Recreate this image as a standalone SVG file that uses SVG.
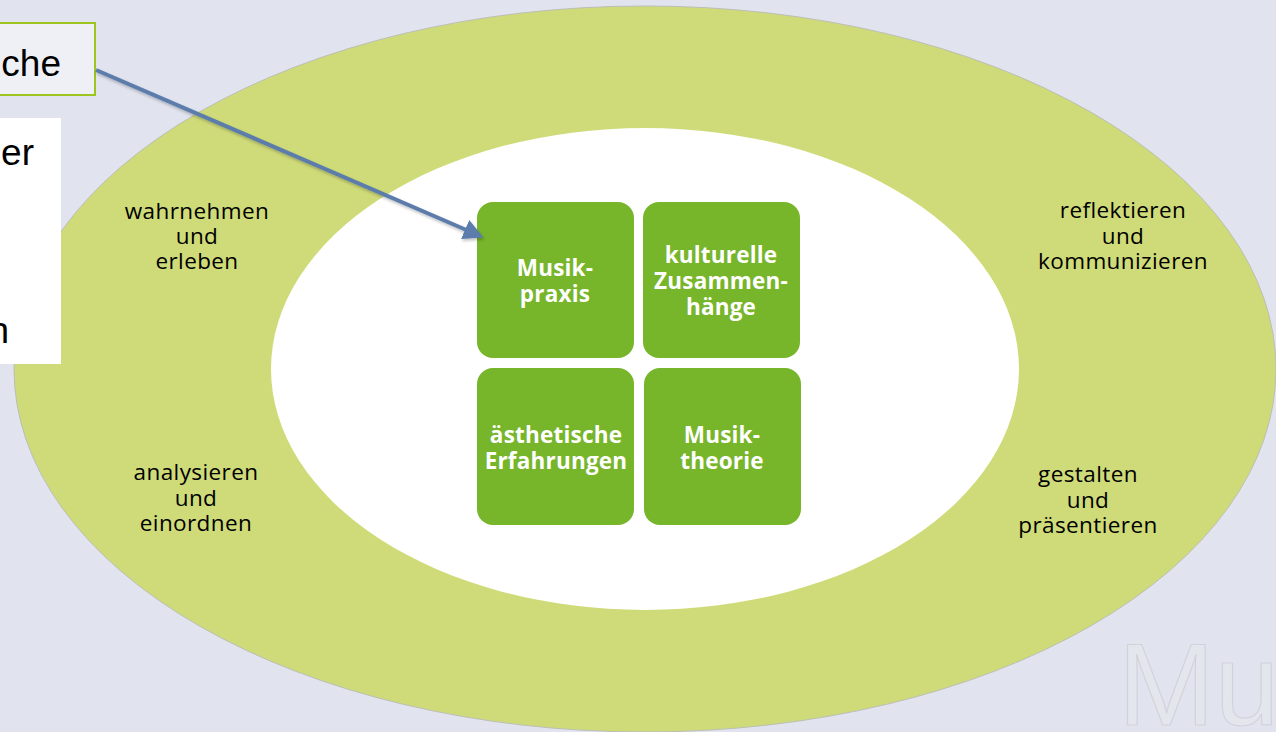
<svg xmlns="http://www.w3.org/2000/svg" width="1276" height="732" viewBox="0 0 1276 732">
<style>
.lbl{font-family:"Open Sans","DejaVu Sans",sans-serif;font-size:22.5px;fill:#000;text-anchor:middle;letter-spacing:0.4px}
.box{fill:#77b52a}
.bt{font-family:"Open Sans","DejaVu Sans",sans-serif;font-size:22.5px;font-weight:bold;fill:#fff;text-anchor:middle;letter-spacing:0.2px}
.big{font-family:"Liberation Sans",Arial,sans-serif;font-size:37px;fill:#000}
</style>
<defs>
<marker id="ah" markerWidth="6" markerHeight="6" refX="3.5" refY="3" orient="auto" markerUnits="strokeWidth">
<path d="M0,0.4 L5,3 L0,5.6 Z" fill="#5b7dab"/>
</marker>
<filter id="sh" x="-10%" y="-10%" width="120%" height="130%">
<feDropShadow dx="1" dy="2" stdDeviation="1.5" flood-color="#000" flood-opacity="0.25"/>
</filter>
</defs>
<rect width="1276" height="732" fill="#e1e3ef"/>
<g id="outer">
<ellipse cx="645" cy="369" rx="631" ry="363" fill="#cfdb78" stroke="#bcbfb4" stroke-width="1"/>
<ellipse cx="645" cy="369" rx="374" ry="241" fill="#ffffff"/>
</g>
<g id="label-wahrnehmen">
<text class="lbl" x="197" y="219">wahrnehmen</text>
<text class="lbl" x="197" y="244">und</text>
<text class="lbl" x="197" y="269">erleben</text>
</g>
<g id="label-analysieren">
<text class="lbl" x="196" y="480">analysieren</text>
<text class="lbl" x="196" y="506">und</text>
<text class="lbl" x="196" y="531">einordnen</text>
</g>
<g id="label-reflektieren">
<text class="lbl" x="1123" y="218">reflektieren</text>
<text class="lbl" x="1123" y="244">und</text>
<text class="lbl" x="1123" y="269">kommunizieren</text>
</g>
<g id="label-gestalten">
<text class="lbl" x="1088" y="482">gestalten</text>
<text class="lbl" x="1088" y="508">und</text>
<text class="lbl" x="1088" y="533">präsentieren</text>
</g>
<g id="node-musikpraxis">
<rect class="box" x="477" y="202" width="157" height="156" rx="16"/>
<text class="bt" x="555" y="276">Musik-</text>
<text class="bt" x="555" y="302">praxis</text>
</g>
<g id="node-kulturelle">
<rect class="box" x="643" y="202" width="157" height="156" rx="16"/>
<text class="bt" x="721" y="263">kulturelle</text>
<text class="bt" x="721" y="289">Zusammen-</text>
<text class="bt" x="721" y="315">hänge</text>
</g>
<g id="node-aesthetische">
<rect class="box" x="477" y="368" width="157" height="157" rx="16"/>
<text class="bt" x="556" y="443">ästhetische</text>
<text class="bt" x="556" y="469">Erfahrungen</text>
</g>
<g id="node-musiktheorie">
<rect class="box" x="644" y="368" width="157" height="157" rx="16"/>
<text class="bt" x="722" y="443">Musik-</text>
<text class="bt" x="722" y="469">theorie</text>
</g>
<g id="watermark">
<text x="1118" y="725" font-family="Liberation Sans, Arial, sans-serif" font-size="116" font-weight="normal" fill="#e4e6ee" stroke="#d2d3da" stroke-width="1.2">Mu</text>
</g>
<g id="node-che">
<rect x="-10" y="23" width="105" height="72" fill="#eff0f6" stroke="#9ec51e" stroke-width="2"/>
<text class="big" x="61" y="76" text-anchor="end">che</text>
</g>
<g id="node-textbox">
<rect x="0" y="118" width="61" height="246" fill="#ffffff"/>
<text class="big" x="34" y="165" text-anchor="end">er</text>
<text class="big" x="9" y="343" text-anchor="end">n</text>
</g>
<g id="connectors">
<line x1="96" y1="70" x2="478" y2="235" stroke="#5b7dab" stroke-width="4" marker-end="url(#ah)" filter="url(#sh)"/>
</g>
</svg>
